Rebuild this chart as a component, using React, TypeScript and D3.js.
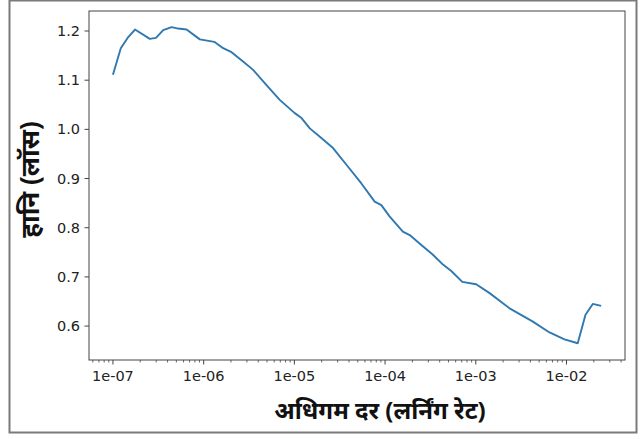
import * as d3 from 'd3';
import React from 'react';

// learning rate finder curve
const lrs = [
  1.0e-7, 1.22e-7, 1.45e-7, 1.75e-7, 2.55e-7, 2.98e-7, 3.58e-7, 4.43e-7, 5.23e-7, 6.48e-7,
  9.08e-7, 1.31e-6, 1.64e-6, 2.03e-6, 2.72e-6, 3.51e-6, 4.93e-6, 6.9e-6, 1.01e-5, 1.2e-5,
  1.48e-5, 1.91e-5, 2.67e-5, 3.75e-5, 5.48e-5, 7.68e-5, 9.1e-5, 1.12e-4, 1.57e-4, 1.87e-4,
  2.4e-4, 3.37e-4, 4.35e-4, 5.37e-4, 7.1e-4, 1.01e-3, 1.42e-3, 2.36e-3, 4.26e-3, 6.5e-3,
  9.51e-3, 1.33e-2, 1.62e-2, 1.95e-2, 2.41e-2,
];
const losses = [
  1.111, 1.165, 1.186, 1.203, 1.184, 1.186, 1.202, 1.208, 1.205, 1.203,
  1.183, 1.178, 1.165, 1.157, 1.138, 1.121, 1.09, 1.06, 1.033, 1.023,
  1.002, 0.985, 0.962, 0.928, 0.89, 0.853, 0.846, 0.823, 0.792, 0.785,
  0.768, 0.745, 0.725, 0.712, 0.69, 0.685, 0.667, 0.636, 0.609, 0.587,
  0.573, 0.565, 0.623, 0.645, 0.641,
];
const xTicks = [1e-7, 1e-6, 1e-5, 1e-4, 1e-3, 1e-2];
const yTicks = [0.6, 0.7, 0.8, 0.9, 1.0, 1.1, 1.2];
const xLabel = 'अधिगम दर (लर्निंग रेट)';
const yLabel = 'हानि (लॉस)';

const W = 642;
const H = 439;
const margin = { top: 11, right: 17, bottom: 79, left: 89 };

export default function App() {
  const left = margin.left;
  const right = W - margin.right;
  const top = margin.top;
  const bottom = H - margin.bottom;

  const x = d3.scaleLog().domain([10 ** -7.264, 10 ** -1.355]).range([left, right]);
  const y = d3.scaleLinear().domain([0.531, 1.2407]).range([bottom, top]);

  const pts = lrs.map((lr, i) => [lr, losses[i]] as [number, number]);
  const line = d3.line<[number, number]>().x(d => x(d[0])).y(d => y(d[1]));

  // minor ticks on the log axis
  const minor: number[] = [];
  for (let e = -8; e <= -1; e++) {
    for (let m = 2; m <= 9; m++) {
      const v = m * 10 ** e;
      if (v >= x.domain()[0] && v <= x.domain()[1]) minor.push(v);
    }
  }

  const tickFont = 'DejaVu Sans, sans-serif';
  const labelFont = '"Noto Sans", "Noto Sans Devanagari", "Lohit Devanagari", sans-serif';

  return (
    <svg width={W} height={H} style={{ position: 'absolute', left: 0, top: 0, background: '#fff' }}>
      <rect x={9.5} y={0.5} width={627} height={432} fill="#fff" stroke="#7a7a7a" strokeWidth={2} />

      <path d={line(pts) ?? ''} fill="none" stroke="#2f78b0" strokeWidth={1.9} strokeLinejoin="round" />

      <rect x={left} y={top} width={right - left} height={bottom - top} fill="none" stroke="#444" strokeWidth={1} />

      {minor.map((v, i) => (
        <line key={'m' + i} x1={x(v)} x2={x(v)} y1={bottom} y2={bottom + 2.5} stroke="#444" strokeWidth={0.8} />
      ))}
      {xTicks.map(v => (
        <g key={'x' + v}>
          <line x1={x(v)} x2={x(v)} y1={bottom} y2={bottom + 4.5} stroke="#444" strokeWidth={1} />
          <text x={x(v)} y={bottom + 21} textAnchor="middle" fontFamily={tickFont} fontSize={14.5} fill="#222">
            {v.toExponential(0).replace(/e([+-])(\d)$/, 'e$10$2')}
          </text>
        </g>
      ))}
      {yTicks.map(v => (
        <g key={'y' + v}>
          <line x1={left - 4.5} x2={left} y1={y(v)} y2={y(v)} stroke="#444" strokeWidth={1} />
          <text x={left - 9} y={y(v)} dy="0.35em" textAnchor="end" fontFamily={tickFont} fontSize={14.5} fill="#222">
            {v.toFixed(1)}
          </text>
        </g>
      ))}

      <text x={380} y={419} textAnchor="middle" fontFamily={labelFont} fontWeight="bold" fontSize={24} fill="#111">
        {xLabel}
      </text>
      <text
        transform={`translate(39,${(top + bottom) / 2 - 6}) rotate(-90)`}
        textAnchor="middle"
        fontFamily={labelFont}
        fontWeight="bold"
        fontSize={26}
        fill="#111"
      >
        {yLabel}
      </text>
    </svg>
  );
}
